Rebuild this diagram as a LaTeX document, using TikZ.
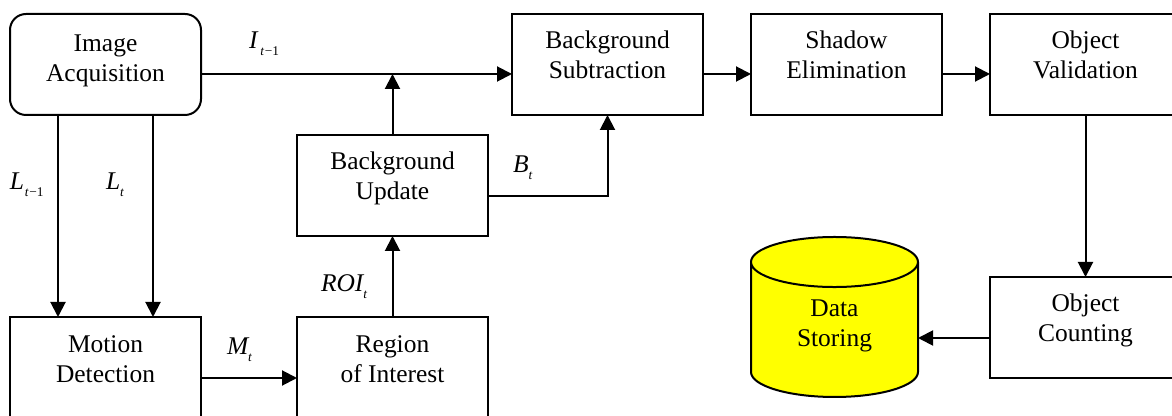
\documentclass[tikz,border=0pt]{standalone}
\usepackage{fontspec}
\setmainfont{Liberation Serif}
\usetikzlibrary{arrows.meta,shapes.geometric}
\definecolor{dbfill}{RGB}{255,255,0}
\newcommand\twolines[3][0pt]{\raisebox{#1}[0pt][0pt]{\begin{tabular}{@{}c@{}}#2\\#3\end{tabular}}}
\newcommand\symb[2]{\mbox{\itshape #1\raisebox{-4.6pt}{\fontsize{10}{12}\selectfont #2}}}
\newcommand\tmo{\kern0.6pt t\kern0.6pt{\upshape −1}}
\tikzset{
  x=0.75pt,y=-0.75pt,
  lab/.style={font=\fontsize{19.1}{22.5}\selectfont,inner sep=0pt,outer sep=0pt},
  box/.style={lab,draw=black,line width=1.5pt,minimum width=143.25pt,minimum height=75.75pt,align=center},
  rbox/.style={box,rounded corners=12pt},
  arr/.style={line width=1.5pt,-{Triangle[length=11.25pt,width=11.25pt]}},
  sym/.style={lab,anchor=base west},
  db/.style={lab,draw=black,line width=1.5pt,cylinder,shape border rotate=90,aspect=0.667,
    minimum width=125.25pt,minimum height=120pt,cylinder uses custom fill,
    cylinder body fill=dbfill,cylinder end fill=dbfill}
}
\begin{document}
\begin{tikzpicture}
\useasboundingbox (0,0) rectangle (1172,416);
\clip (0,0) rectangle (1172,416);
\coordinate (rowa) at (0,74);
\coordinate (rowb) at (0,196);
\coordinate (rowc) at (0,378);
\coordinate (rowd) at (0,338);
\coordinate (cola) at (58,0);
\coordinate (colb) at (153,0);
\node[rbox] (image) at (105.5,64.5) {\twolines[-2pt]{Image}{Acquisition}};
\node[box] (motion) at (105.5,367.5) {\twolines[-0.75pt]{Motion}{Detection}};
\node[box] (region) at (392.5,367.5) {\twolines[-0.75pt]{Region}{of Interest}};
\node[box] (update) at (392.5,185.5) {\twolines{Background}{Update}};
\node[box] (subtr) at (607.5,64.5) {\twolines{Background}{Subtraction}};
\node[box] (shadow) at (846.5,64.5) {\twolines{Shadow}{Elimination}};
\node[box] (valid) at (1085.5,64.5) {\twolines{Object}{Validation}};
\node[box] (count) at (1085.5,327.5) {\twolines{Object}{Counting}};
\node[db] (store) at (834.5,330) {\twolines[-1.5pt]{Data}{Storing}};
\coordinate (join) at (update.north |- rowa);
\coordinate (dbin) at (store.east |- rowd);
\draw[arr] (image.east |- rowa) -- (subtr.west |- rowa);
\draw[arr] (subtr.east |- rowa) -- (shadow.west |- rowa);
\draw[arr] (shadow.east |- rowa) -- (valid.west |- rowa);
\draw[arr] (update.north) -- (join);
\draw[arr] (region.north) -- (update.south);
\draw[arr] (update.east |- rowb) -| (subtr.south);
\draw[arr] (cola |- image.south) -- (cola |- motion.north);
\draw[arr] (colb |- image.south) -- (colb |- motion.north);
\draw[arr] (motion.east |- rowc) -- (region.west |- rowc);
\draw[arr] (valid.south) -- (count.north);
\draw[arr] (count.west |- rowd) -- (dbin);
\node[sym] (it) at (249,49) {\symb{I\kern1.5pt}{\tmo}};
\node[sym] (lta) at (10,190) {\symb{L}{\tmo}};
\node[sym] (ltb) at (106,190) {\symb{L}{t}};
\node[sym] (bt) at (513,173) {\symb{B}{t}};
\node[sym] (roi) at (321,292) {\symb{ROI}{t}};
\node[sym] (mt) at (227,355) {\symb{M}{t}};
\end{tikzpicture}
\end{document}
